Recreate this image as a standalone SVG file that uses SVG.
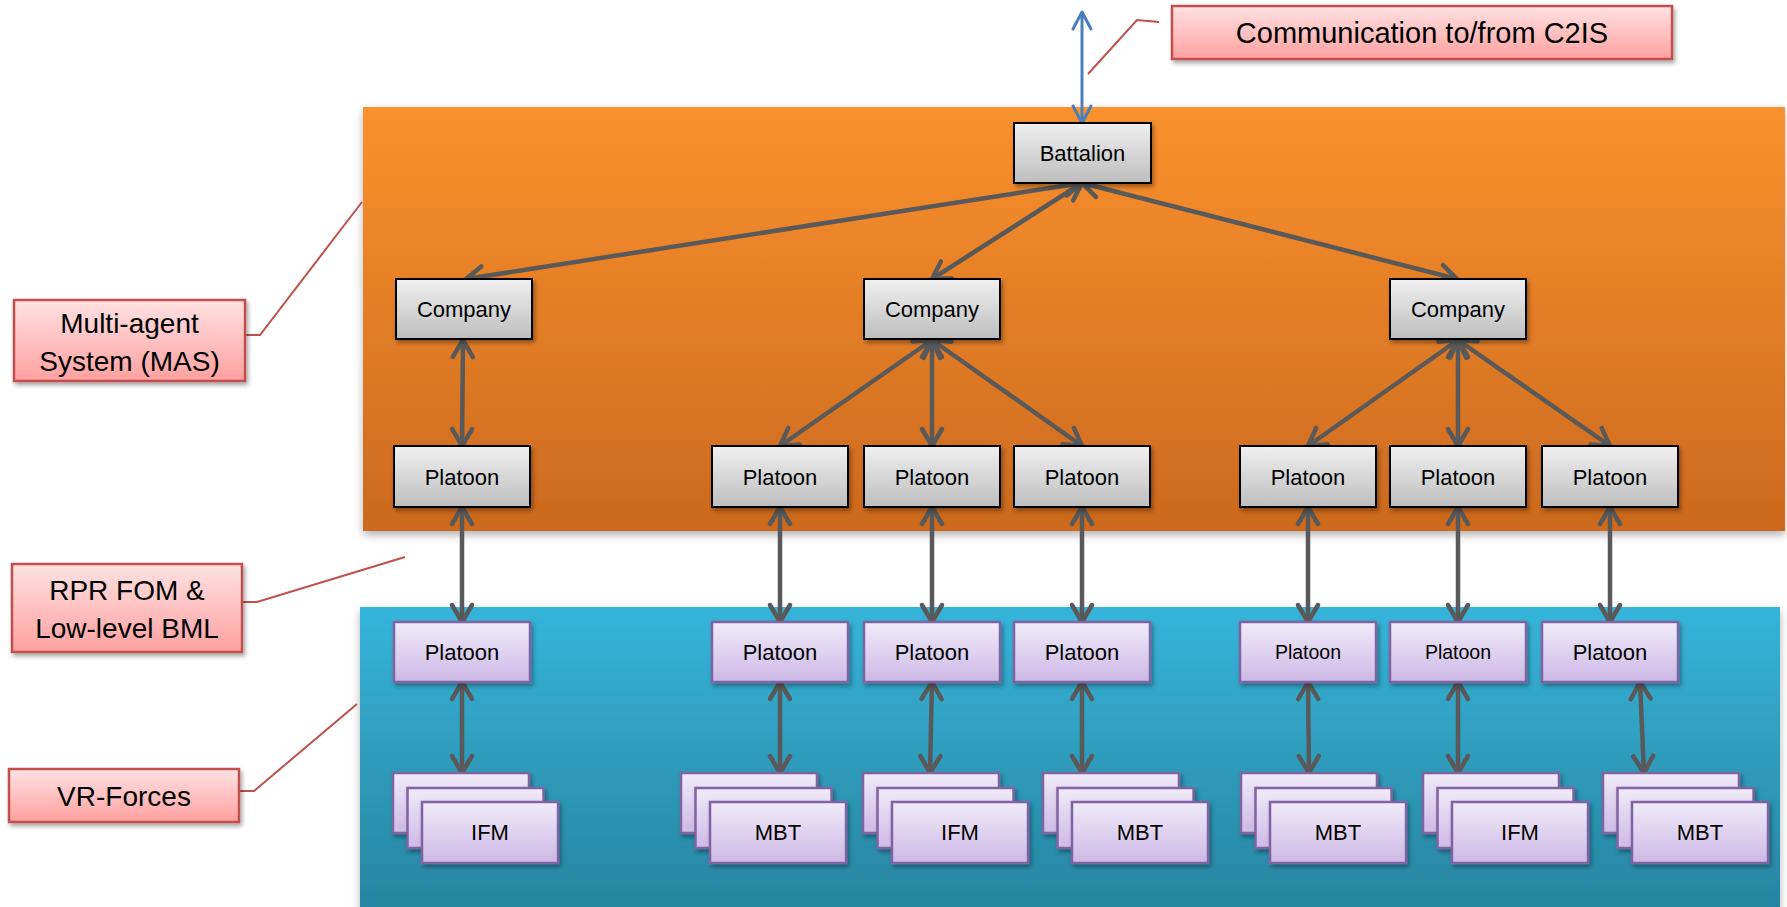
<svg xmlns="http://www.w3.org/2000/svg" width="1787" height="907" viewBox="0 0 1787 907">
<defs>
<linearGradient id="gOrange" x1="0" y1="0" x2="0" y2="1"><stop offset="0" stop-color="#FA912E"/><stop offset="1" stop-color="#CC691E"/></linearGradient>
<linearGradient id="gBlue" x1="0" y1="0" x2="0" y2="1"><stop offset="0" stop-color="#36B4DA"/><stop offset="1" stop-color="#27849F"/></linearGradient>
<linearGradient id="gGray" x1="0" y1="0" x2="0" y2="1"><stop offset="0" stop-color="#F0F0F0"/><stop offset="1" stop-color="#BEBEBE"/></linearGradient>
<linearGradient id="gPurple" x1="0" y1="0" x2="0" y2="1"><stop offset="0" stop-color="#F0EBF9"/><stop offset="1" stop-color="#CDB9E6"/></linearGradient>
<linearGradient id="gPink" x1="0" y1="0" x2="0" y2="1"><stop offset="0" stop-color="#FFE2E2"/><stop offset="1" stop-color="#FFA0A0"/></linearGradient>
<filter id="shNode" x="-10%" y="-20%" width="130%" height="150%"><feDropShadow dx="2" dy="3" stdDeviation="2" flood-color="#000" flood-opacity="0.35"/></filter>
<filter id="shPanel" x="-5%" y="-5%" width="110%" height="115%"><feDropShadow dx="0" dy="4" stdDeviation="4" flood-color="#000" flood-opacity="0.3"/></filter>
<marker id="ah" markerUnits="userSpaceOnUse" markerWidth="30" markerHeight="30" viewBox="-24 -15 30 30" refX="0" refY="0" orient="auto-start-reverse"><path d="M-17,-10 L0,0 L-17,10" fill="none" stroke="#595959" stroke-width="4.5" stroke-linecap="round" stroke-linejoin="round"/></marker>
<marker id="ahBlue" markerUnits="userSpaceOnUse" markerWidth="30" markerHeight="30" viewBox="-24 -15 30 30" refX="0" refY="0" orient="auto-start-reverse"><path d="M-17,-9 L0,0 L-17,9" fill="none" stroke="#4A7EBB" stroke-width="3" stroke-linecap="round" stroke-linejoin="round"/></marker>
<style>
.gray{fill:url(#gGray);stroke:#000;stroke-width:2;filter:url(#shNode)}
.purple{fill:url(#gPurple);stroke:#8064A2;stroke-width:2.5;filter:url(#shNode)}
.callout{fill:url(#gPink);stroke:#C0504D;stroke-width:2.5;filter:url(#shNode)}
.lbl{font-family:"Liberation Sans",Arial,sans-serif;font-size:22px;fill:#000;text-anchor:middle;dominant-baseline:central}
.small{font-size:19.5px}
.clbl{font-family:"Liberation Sans",Arial,sans-serif;font-size:28px;fill:#000;text-anchor:middle;dominant-baseline:central}
.conn{stroke:#595959;stroke-width:4.5;fill:none;marker-start:url(#ah);marker-end:url(#ah)}
.blue{stroke:#4A7EBB;stroke-width:3;fill:none;marker-start:url(#ahBlue);marker-end:url(#ahBlue)}
.leader{stroke:#C0504D;stroke-width:2;fill:none}
</style>
</defs>
<rect width="1787" height="907" fill="#fff"/>
<g id="panel-mas"><rect x="363" y="107" width="1422" height="424" fill="url(#gOrange)" filter="url(#shPanel)"/></g>
<g id="panel-vrf"><rect x="360" y="607" width="1420" height="304" fill="url(#gBlue)" filter="url(#shPanel)"/></g>

<g id="callouts">
<g id="callout-c2is"><polyline class="leader" points="1159,22 1137,20 1088,74"/><rect class="callout" x="1172" y="6" width="500" height="53"/><text class="clbl" x="1422" y="33" style="font-size:29px">Communication to/from C2IS</text></g>
<g id="callout-mas"><polyline class="leader" points="245,335 260,335 362,202"/><rect class="callout" x="14" y="300" width="231" height="81"/><text class="clbl" x="129.5" y="323">Multi-agent</text><text class="clbl" x="129.5" y="361">System (MAS)</text></g>
<g id="callout-rpr"><polyline class="leader" points="242,602 257,602 405,557"/><rect class="callout" x="12" y="564" width="230" height="88"/><text class="clbl" x="127" y="590">RPR FOM &amp;</text><text class="clbl" x="127" y="628">Low-level BML</text></g>
<g id="callout-vrf"><polyline class="leader" points="239,791 254,791 357,704"/><rect class="callout" x="9" y="769" width="230" height="53"/><text class="clbl" x="124" y="796">VR-Forces</text></g>
</g>

<g id="connectors">
<line class="blue" x1="1082" y1="12" x2="1082" y2="123"/>
<line class="conn" x1="1082" y1="183" x2="466" y2="279"/>
<line class="conn" x1="1082" y1="183" x2="932" y2="279"/>
<line class="conn" x1="1082" y1="183" x2="1457" y2="279"/>
<line class="conn" x1="463" y1="340" x2="462" y2="446"/>
<line class="conn" x1="932" y1="340" x2="780" y2="446"/>
<line class="conn" x1="932" y1="340" x2="932" y2="446"/>
<line class="conn" x1="932" y1="340" x2="1082" y2="446"/>
<line class="conn" x1="1458" y1="340" x2="1308" y2="446"/>
<line class="conn" x1="1458" y1="340" x2="1458" y2="446"/>
<line class="conn" x1="1458" y1="340" x2="1610" y2="446"/>
<line class="conn" x1="462" y1="507" x2="462" y2="622"/>
<line class="conn" x1="780" y1="507" x2="780" y2="622"/>
<line class="conn" x1="932" y1="507" x2="932" y2="622"/>
<line class="conn" x1="1082" y1="507" x2="1082" y2="622"/>
<line class="conn" x1="1308" y1="507" x2="1308" y2="622"/>
<line class="conn" x1="1458" y1="507" x2="1458" y2="622"/>
<line class="conn" x1="1610" y1="507" x2="1610" y2="622"/>
<line class="conn" x1="462" y1="682" x2="462" y2="773"/>
<line class="conn" x1="780" y1="682" x2="780" y2="773"/>
<line class="conn" x1="932" y1="682" x2="930" y2="773"/>
<line class="conn" x1="1082" y1="682" x2="1082" y2="773"/>
<line class="conn" x1="1308" y1="682" x2="1309" y2="773"/>
<line class="conn" x1="1458" y1="682" x2="1458" y2="773"/>
<line class="conn" x1="1640" y1="682" x2="1644" y2="773"/>
</g>

<g id="battalion"><rect class="gray" x="1014" y="123" width="137" height="60"/><text class="lbl" x="1082.5" y="153">Battalion</text></g>
<g id="company-1"><rect class="gray" x="396" y="279" width="136" height="60"/><text class="lbl" x="464" y="309">Company</text></g>
<g id="company-2"><rect class="gray" x="864" y="279" width="136" height="60"/><text class="lbl" x="932" y="309">Company</text></g>
<g id="company-3"><rect class="gray" x="1390" y="279" width="136" height="60"/><text class="lbl" x="1458" y="309">Company</text></g>

<g id="mas-platoon-1"><rect class="gray" x="394" y="446" width="136" height="61"/><text class="lbl" x="462" y="477">Platoon</text></g>
<g id="mas-platoon-2"><rect class="gray" x="712" y="446" width="136" height="61"/><text class="lbl" x="780" y="477">Platoon</text></g>
<g id="mas-platoon-3"><rect class="gray" x="864" y="446" width="136" height="61"/><text class="lbl" x="932" y="477">Platoon</text></g>
<g id="mas-platoon-4"><rect class="gray" x="1014" y="446" width="136" height="61"/><text class="lbl" x="1082" y="477">Platoon</text></g>
<g id="mas-platoon-5"><rect class="gray" x="1240" y="446" width="136" height="61"/><text class="lbl" x="1308" y="477">Platoon</text></g>
<g id="mas-platoon-6"><rect class="gray" x="1390" y="446" width="136" height="61"/><text class="lbl" x="1458" y="477">Platoon</text></g>
<g id="mas-platoon-7"><rect class="gray" x="1542" y="446" width="136" height="61"/><text class="lbl" x="1610" y="477">Platoon</text></g>

<g id="vrf-platoon-1"><rect class="purple" x="394" y="622" width="136" height="60"/><text class="lbl" x="462" y="652">Platoon</text></g>
<g id="vrf-platoon-2"><rect class="purple" x="712" y="622" width="136" height="60"/><text class="lbl" x="780" y="652">Platoon</text></g>
<g id="vrf-platoon-3"><rect class="purple" x="864" y="622" width="136" height="60"/><text class="lbl" x="932" y="652">Platoon</text></g>
<g id="vrf-platoon-4"><rect class="purple" x="1014" y="622" width="136" height="60"/><text class="lbl" x="1082" y="652">Platoon</text></g>
<g id="vrf-platoon-5"><rect class="purple" x="1240" y="622" width="136" height="60"/><text class="lbl small" x="1308" y="652">Platoon</text></g>
<g id="vrf-platoon-6"><rect class="purple" x="1390" y="622" width="136" height="60"/><text class="lbl small" x="1458" y="652">Platoon</text></g>
<g id="vrf-platoon-7"><rect class="purple" x="1542" y="622" width="136" height="60"/><text class="lbl" x="1610" y="652">Platoon</text></g>

<g id="units-1"><rect class="purple" x="393" y="773" width="136" height="60"/><rect class="purple" x="407.5" y="788" width="136" height="60"/><rect class="purple" x="422" y="802" width="136" height="61"/><text class="lbl" x="490" y="832">IFM</text></g>
<g id="units-2"><rect class="purple" x="681" y="773" width="136" height="60"/><rect class="purple" x="695.5" y="788" width="136" height="60"/><rect class="purple" x="710" y="802" width="136" height="61"/><text class="lbl" x="778" y="832">MBT</text></g>
<g id="units-3"><rect class="purple" x="863" y="773" width="136" height="60"/><rect class="purple" x="877.5" y="788" width="136" height="60"/><rect class="purple" x="892" y="802" width="136" height="61"/><text class="lbl" x="960" y="832">IFM</text></g>
<g id="units-4"><rect class="purple" x="1043" y="773" width="136" height="60"/><rect class="purple" x="1057.5" y="788" width="136" height="60"/><rect class="purple" x="1072" y="802" width="136" height="61"/><text class="lbl" x="1140" y="832">MBT</text></g>
<g id="units-5"><rect class="purple" x="1241" y="773" width="136" height="60"/><rect class="purple" x="1255.5" y="788" width="136" height="60"/><rect class="purple" x="1270" y="802" width="136" height="61"/><text class="lbl" x="1338" y="832">MBT</text></g>
<g id="units-6"><rect class="purple" x="1423" y="773" width="136" height="60"/><rect class="purple" x="1437.5" y="788" width="136" height="60"/><rect class="purple" x="1452" y="802" width="136" height="61"/><text class="lbl" x="1520" y="832">IFM</text></g>
<g id="units-7"><rect class="purple" x="1603" y="773" width="136" height="60"/><rect class="purple" x="1617.5" y="788" width="136" height="60"/><rect class="purple" x="1632" y="802" width="136" height="61"/><text class="lbl" x="1700" y="832">MBT</text></g>
</svg>
